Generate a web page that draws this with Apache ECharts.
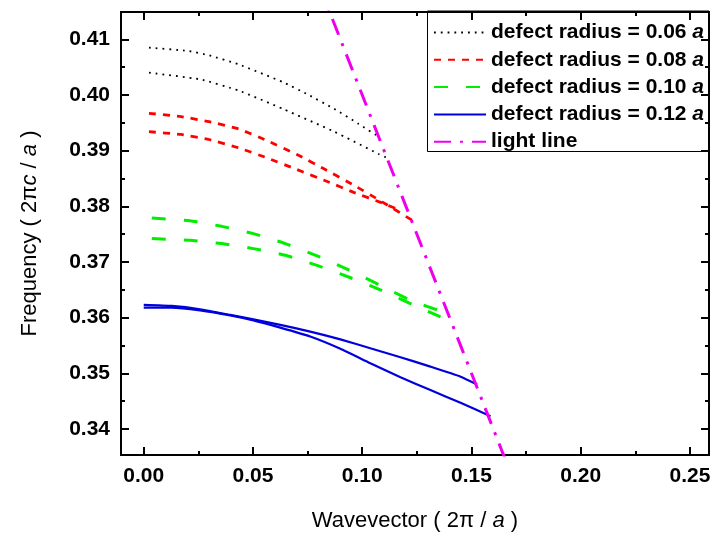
<!DOCTYPE html>
<html>
<head>
<meta charset="utf-8">
<script src="https://cdn.jsdelivr.net/npm/echarts@6/dist/echarts.min.js"></script>
<style>
  html, body { margin: 0; padding: 0; background: #fff; }
  #chart { width: 715px; height: 534px; }
</style>
</head>
<body>
<div id="chart"></div>
<script>
// band edges, [wavevector, frequency]
const r06Upper = [[0.0024, 0.4085], [0.0204, 0.4079], [0.0300, 0.4071], [0.0434, 0.4055], [0.0637, 0.4023], [0.0750, 0.4001], [0.0872, 0.3975], [0.0984, 0.3948], [0.1075, 0.3925]]
const r06Lower = [[0.0024, 0.4040], [0.0258, 0.4028], [0.0434, 0.4008], [0.0637, 0.3975], [0.0872, 0.3934], [0.1075, 0.3894], [0.1114, 0.3887]]
const r08Upper = [[0.0024, 0.3967], [0.0171, 0.3961], [0.0299, 0.3952], [0.0434, 0.3939], [0.0564, 0.3918], [0.0701, 0.3893], [0.0831, 0.3866], [0.0961, 0.3838], [0.1091, 0.3808], [0.1228, 0.3775]]
const r08Lower = [[0.0024, 0.3934], [0.0171, 0.3929], [0.0299, 0.3920], [0.0434, 0.3905], [0.0564, 0.3887], [0.0701, 0.3866], [0.0831, 0.3846], [0.0961, 0.3825], [0.1091, 0.3806], [0.1167, 0.3794]]
const r10Upper = [[0.0037, 0.3779], [0.0212, 0.3774], [0.0357, 0.3764], [0.0502, 0.3751], [0.0648, 0.3733], [0.0793, 0.3711], [0.0938, 0.3686], [0.1083, 0.3658], [0.1228, 0.3630], [0.1343, 0.3614], [0.1404, 0.3604]]
const r10Lower = [[0.0037, 0.3742], [0.0212, 0.3739], [0.0357, 0.3733], [0.0502, 0.3724], [0.0648, 0.3712], [0.0793, 0.3694], [0.0938, 0.3673], [0.1083, 0.3650], [0.1228, 0.3624], [0.1343, 0.3604], [0.1389, 0.3596]]
const r12Upper = [[0.0000, 0.3623], [0.0128, 0.3621], [0.0258, 0.3615], [0.0396, 0.3605], [0.0502, 0.3597], [0.0625, 0.3587], [0.0762, 0.3575], [0.0900, 0.3561], [0.1037, 0.3545], [0.1175, 0.3529], [0.1312, 0.3512], [0.1450, 0.3494], [0.1526, 0.3480]]
const r12Lower = [[0.0000, 0.3618], [0.0128, 0.3618], [0.0258, 0.3613], [0.0396, 0.3604], [0.0502, 0.3595], [0.0625, 0.3582], [0.0762, 0.3566], [0.0900, 0.3544], [0.1037, 0.3518], [0.1175, 0.3493], [0.1312, 0.3470], [0.1450, 0.3447], [0.1587, 0.3423]]
const lightLine = [[0.08, 0.42], [0.17, 0.33]]

const legendNames = ['defect radius = 0.06 a', 'defect radius = 0.08 a', 'defect radius = 0.10 a', 'defect radius = 0.12 a', 'light line']
const xTicks = [0, 0.05, 0.10, 0.15, 0.20, 0.25]
const xMinorTicks = [0.025, 0.075, 0.125, 0.175, 0.225]
const yTicks = [0.34, 0.35, 0.36, 0.37, 0.38, 0.39, 0.40, 0.41]
const yMinorTicks = [0.345, 0.355, 0.365, 0.375, 0.385, 0.395, 0.405]

;(function() {
  var chart = echarts.init(document.getElementById('chart'))
  var font = 'Liberation Sans, Arial, sans-serif'
  var xRange = {min: -0.0104, max: 0.2587}
  var yRange = {min: 0.33533, max: 0.4149}

  function frameAxis(kind, position, ticks, len, labels) {
    var ax = Object.assign({
      type: 'value',
      position: position,
      scale: true,
      axisLine: {show: true, onZero: false, lineStyle: {color: '#000', width: 2}},
      axisTick: {show: true, inside: true, length: len, customValues: ticks, lineStyle: {color: '#000', width: 2}},
      splitLine: {show: false},
      axisLabel: {show: false},
    }, kind === 'x' ? xRange : yRange)
    if (labels) {
      ax.axisLabel = {
        show: true,
        customValues: ticks,
        margin: 11,
        color: '#000',
        fontFamily: font,
        fontWeight: 'bold',
        fontSize: 21,
        formatter: function(v) { return v.toFixed(2) }
      }
    }
    return ax
  }

  var xAxisList = [
    frameAxis('x', 'bottom', xTicks, 8, true),
    frameAxis('x', 'bottom', xMinorTicks, 4, false),
    frameAxis('x', 'top', xTicks, 8, false),
    frameAxis('x', 'top', xMinorTicks, 4, false),
  ]
  xAxisList[0].name = '{n|Wavevector ( 2π / }{i|a}{n| )}'
  xAxisList[0].nameLocation = 'middle'
  xAxisList[0].nameGap = 55

  var yAxisList = [
    frameAxis('y', 'left', yTicks, 8, true),
    frameAxis('y', 'left', yMinorTicks, 4, false),
    frameAxis('y', 'right', yTicks, 8, false),
    frameAxis('y', 'right', yMinorTicks, 4, false),
  ]
  yAxisList[0].name = '{n|Frequency ( 2π}{i|c}{n| / }{i|a}{n| )}'
  yAxisList[0].nameLocation = 'middle'
  yAxisList[0].nameGap = 80

  var nameStyle = {
    rich: {
      n: {fontFamily: font, fontSize: 22, color: '#000'},
      i: {fontFamily: font, fontSize: 22, fontStyle: 'italic', color: '#000'},
    }
  }
  xAxisList[0].nameTextStyle = nameStyle
  yAxisList[0].nameTextStyle = nameStyle

  function curve(name, data, color, width, type) {
    return {
      name: name,
      type: 'line',
      data: data,
      showSymbol: false,
      symbol: 'none',
      smooth: 0.15,
      clip: true,
      animation: false,
      lineStyle: {color: color, width: width, type: type},
      itemStyle: {color: color},
    }
  }

  var option = {
    backgroundColor: '#fff',
    animation: false,
    grid: {left: 121, right: 6, top: 12, bottom: 79, outerBoundsMode: 'none'},
    xAxis: xAxisList,
    yAxis: yAxisList,
    legend: {
      orient: 'vertical',
      left: 433,
      top: 22,
      padding: 0,
      itemWidth: 52,
      itemHeight: 20,
      itemGap: 6.3,
      data: legendNames,
      itemStyle: {opacity: 0},
      formatter: function(name) {
        if (name.slice(-2) === ' a') return '{b|' + name.slice(0, -1) + '}{i|a}'
        return '{b|' + name + '}'
      },
      textStyle: {
        rich: {
          b: {fontFamily: font, fontSize: 21, fontWeight: 'bold', color: '#000'},
          i: {fontFamily: font, fontSize: 21, fontWeight: 'bold', fontStyle: 'italic', color: '#000'},
        }
      }
    },
    graphic: [{
      type: 'rect',
      shape: {x: 427.5, y: 11, width: 281.5, height: 140.5},
      style: {fill: 'none', stroke: '#000', lineWidth: 1},
      z: 100,
    }],
    series: [
      curve(legendNames[0], r06Upper, '#000000', 1.8, [1.8, 5]),
      curve(legendNames[0], r06Lower, '#000000', 1.8, [1.8, 5]),
      curve(legendNames[1], r08Upper, '#ff0000', 2.8, [7, 7]),
      curve(legendNames[1], r08Lower, '#ff0000', 2.8, [7, 7]),
      curve(legendNames[2], r10Upper, '#00ee00', 3, [14, 18]),
      curve(legendNames[2], r10Lower, '#00ee00', 3, [14, 18]),
      curve(legendNames[3], r12Upper, '#0000dd', 2.2, 'solid'),
      curve(legendNames[3], r12Lower, '#0000dd', 2.2, 'solid'),
      Object.assign(curve(legendNames[4], lightLine, '#ee00ee', 3, [17, 9, 3, 9]), {smooth: false}),
    ]
  }
  chart.setOption(option)
})()
</script>
</body>
</html>
